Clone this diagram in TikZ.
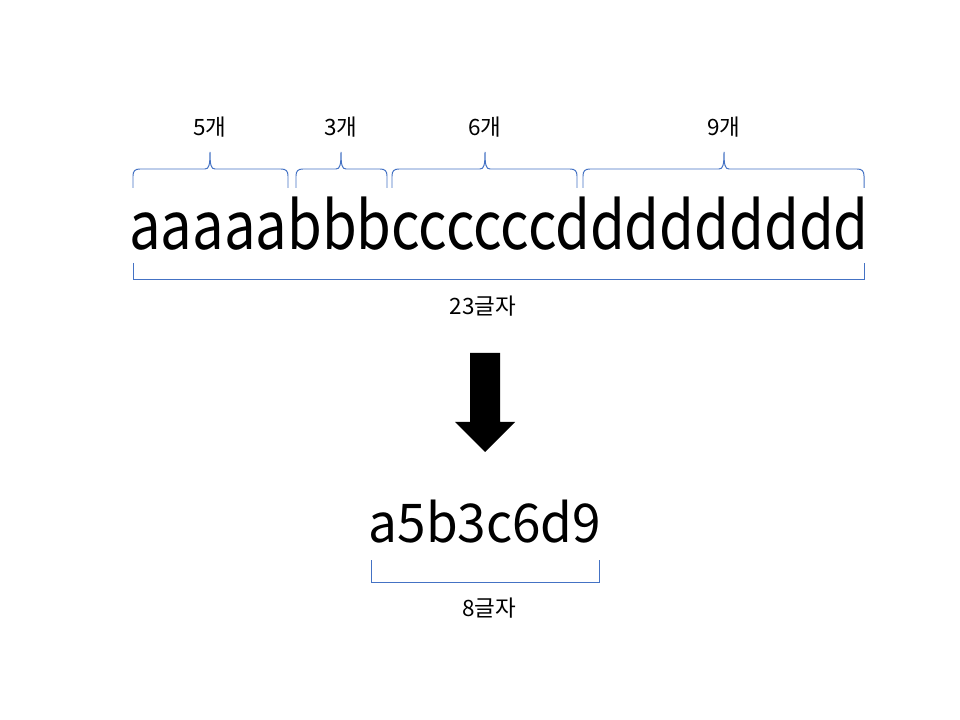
\documentclass[tikz,border=0pt]{standalone}
\usepackage{fontspec}
\setmainfont{Noto Sans CJK KR}
\newfontfamily\narrowfont{Noto Sans CJK KR}[FakeStretch=0.85]
\newfontfamily\midfont{Noto Sans CJK KR}[FakeStretch=0.96]
\definecolor{bracketblue}{HTML}{4472C4}

\begin{document}
\begin{tikzpicture}
[x=0.025cm, y=-0.025cm,
bracket/.style={draw=bracketblue, line width=0.7pt},
countlabel/.style={font=\fontsize{16}{18}\selectfont, inner sep=0pt},
bigtext/.style={font=\narrowfont\fontsize{47}{50}\selectfont, inner sep=0pt},
midtext/.style={font=\midfont\fontsize{38}{40}\selectfont, inner sep=0pt},]
\fill[white] (0,0) rectangle (960,720);

% source string with its groups
\node[bigtext,anchor=base] (src) at (499,250) {aaaaabbbccccccddddddddd};
\foreach \l/\m/\r/\n in {133/210/288/5, 296/341/387/3, 392/485/577/6, 583/724/864/9}{
  \draw[bracket] (\l,188) -- (\l,176) .. controls (\l,171) and ({\l+2},169) .. ({\l+7},169)
    -- ({\m-5},169) .. controls ({\m-1},169) and (\m,165) .. (\m,152)
    .. controls (\m,165) and ({\m+1},169) .. ({\m+5},169)
    -- ({\r-7},169) .. controls ({\r-2},169) and (\r,171) .. (\r,176) -- (\r,188);
  \node[countlabel] (n\n) at (\m,127) {\n{}개};
}
\draw[bracket] (133,263) -- (133,279) -- (864,279) -- (864,263);
\node[countlabel] (total) at (483,306) {23글자};

% block arrow
\fill[black] (470,353) -- (500,353) -- (500,422) -- (515,422) -- (485,452) -- (455,422) -- (470,422) -- cycle;

% encoded string
\node[midtext,anchor=base] (res) at (485,542) {a5b3c6d9};
\draw[bracket] (371,560) -- (371,582) -- (599,582) -- (599,560);
\node[countlabel] (short) at (489,608) {8글자};
\end{tikzpicture}
\end{document}
